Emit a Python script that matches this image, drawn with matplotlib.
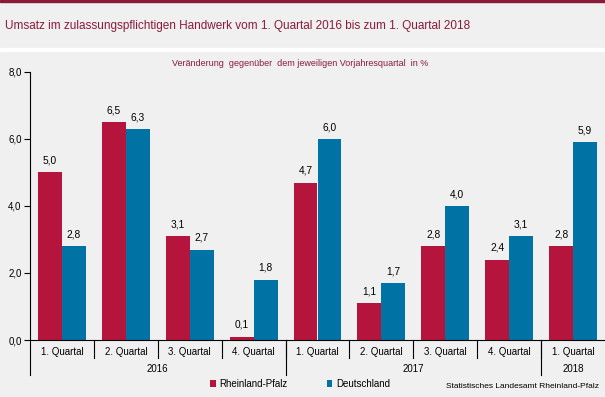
import matplotlib.pyplot as plt
import numpy as np
from matplotlib.patches import Rectangle

plt.rcParams['font.family'] = ['Liberation Sans', 'DejaVu Sans']

quartale = ["1. Quartal", "2. Quartal", "3. Quartal", "4. Quartal",
            "1. Quartal", "2. Quartal", "3. Quartal", "4. Quartal", "1. Quartal"]
jahre = ["2016", "2017", "2018"]
jahr_anzahl = [4, 4, 1]
rlp = [5.0, 6.5, 3.1, 0.1, 4.7, 1.1, 2.8, 2.4, 2.8]
de = [2.8, 6.3, 2.7, 1.8, 6.0, 1.7, 4.0, 3.1, 5.9]

bg = "#eff0ef"
rot = "#b5153c"
blau = "#0072a4"
W, H = 605, 397

fig = plt.figure(figsize=(6.05, 3.97), dpi=100, facecolor=bg)
# top border and white divider
fig.patches.append(Rectangle((0, 1 - 2 / H), 1, 2 / H, transform=fig.transFigure,
                             color="#8b1a3a", zorder=0))
fig.patches.append(Rectangle((0, 1 - 51 / H), 1, 3 / H, transform=fig.transFigure,
                             color="white", zorder=0))
fig.text(5 / W, 1 - 26 / H, "Umsatz im zulassungspflichtigen Handwerk vom 1. Quartal 2016 bis zum 1. Quartal 2018",
         fontsize=8.5, color="#8b1a3a", va="center", ha="left")
fig.text(300 / W, 1 - 63 / H, "Veränderung  gegenüber  dem jeweiligen Vorjahresquartal  in %",
         fontsize=6.5, color="#8b1a3a", va="center", ha="center")

ax = fig.add_axes([30 / W, 1 - 340 / H, 575 / W, 268 / H])
ax.set_facecolor(bg)
x = np.arange(len(quartale))
bw = 0.375
b1 = ax.bar(x - bw / 2, rlp, bw, color=rot, label="Rheinland-Pfalz")
b2 = ax.bar(x + bw / 2, de, bw, color=blau, label="Deutschland")
for bars, vals in ((b1, rlp), (b2, de)):
    for b, v in zip(bars, vals):
        ax.text(b.get_x() + b.get_width() / 2, v + 0.2, f"{v:.1f}".replace(".", ","),
                ha="center", va="bottom", fontsize=7.3)

ax.set_xlim(-0.5, len(quartale) - 0.5)
ax.set_ylim(0, 8)
ax.set_yticks([0, 2, 4, 6, 8])
ax.set_yticklabels([f"{t:.1f}".replace(".", ",") for t in [0, 2, 4, 6, 8]], fontsize=7)
ax.tick_params(axis="y", direction="out", length=4, width=0.8, pad=2)
ax.set_xticks([])
for s in ["top", "right"]:
    ax.spines[s].set_visible(False)
ax.spines["left"].set_linewidth(0.8)
ax.spines["bottom"].set_linewidth(0.8)

tr = ax.get_xaxis_transform()
for i, q in enumerate(quartale):
    ax.text(i, -12 / 268, q, transform=tr, ha="center", va="center", fontsize=7)
for i in range(1, len(quartale)):
    ax.plot([i - 0.5, i - 0.5], [0, -18 / 268], transform=tr, color="black",
            lw=0.8, clip_on=False)
start = 0
for j, n in zip(jahre, jahr_anzahl):
    ax.plot([start - 0.5, start - 0.5], [0, -35 / 268], transform=tr, color="black",
            lw=0.8, clip_on=False)
    ax.text(start - 0.5 + n / 2, -29 / 268, j, transform=tr, ha="center", va="center", fontsize=7)
    start += n

ax.legend(loc="center", bbox_to_anchor=(270 / 575, -44 / 268), ncol=2, frameon=False,
          fontsize=7, handlelength=0.6, handleheight=0.6, columnspacing=4, handletextpad=0.4)
fig.text(599 / W, 1 - 386 / H, "Statistisches Landesamt Rheinland-Pfalz", fontsize=6,
         ha="right", va="center")

fig.savefig("out.png", dpi=100, facecolor=bg)
